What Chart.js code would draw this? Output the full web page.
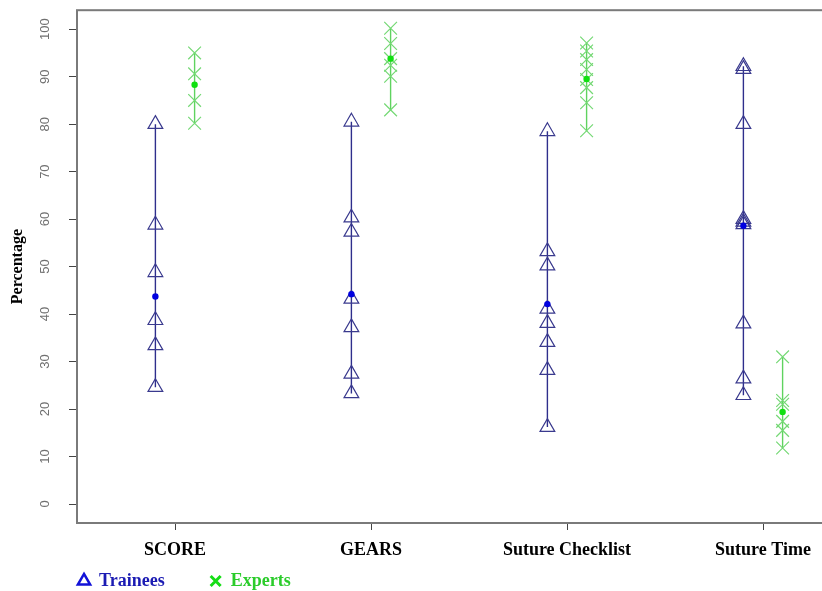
<!DOCTYPE html>
<html>
<head>
<meta charset="utf-8">
<title>Trainees vs Experts</title>
<script src="https://cdn.jsdelivr.net/npm/chart.js@4.4.1/dist/chart.umd.min.js"></script>
<style>
  html, body { margin: 0; padding: 0; background: #fff; overflow: hidden; }
  #wrap { width: 880px; height: 591px; }
</style>
</head>
<body>
<div id="wrap"><canvas id="scoreChart" width="880" height="591"></canvas></div>
<script>
// values (percentages)
const categories = ['SCORE', 'GEARS', 'Suture Checklist', 'Suture Time'];
const traineeValues = [
  [80, 58.8, 48.8, 38.7, 33.4, 24.6],
  [80.5, 60.3, 57.3, 43.2, 37.2, 27.4, 23.3],
  [78.5, 53.2, 50.2, 41.1, 38.1, 34.1, 28.2, 16.2],
  [92.2, 91.6, 80, 60, 59.4, 58.9, 38, 26.4, 22.9]
];
const expertValues = [
  [95, 90.6, 85, 80.2],
  [100.2, 97, 93.8, 92.4, 90.1, 83],
  [97.1, 95.4, 93.6, 91.5, 89.4, 87.7, 84.5, 78.6],
  [31, 21.8, 21, 17.4, 15.5, 11.8]
];
const traineeMedians = [43.7, 44.2, 42.1, 58.6];
const expertMedians = [88.3, 93.8, 89.5, 19.4];
const yTicks = [0, 10, 20, 30, 40, 50, 60, 70, 80, 90, 100];

const serif = '"Liberation Serif", "Times New Roman", serif';
const sans = '"Liberation Sans", Arial, sans-serif';

// one line per category, broken with a null point
function groupPoints(values, offset) {
  const pts = [];
  values.forEach((vals, i) => {
    vals.forEach(v => pts.push({ x: i + 1 + offset, y: v }));
    pts.push({ x: i + 1 + offset, y: null });
  });
  return pts;
}

function medianPoints(meds, offset) {
  return meds.map((v, i) => ({ x: i + 1 + offset, y: v }));
}

function noPadding(scale) {
  scale.paddingTop = 0;
  scale.paddingBottom = 0;
  scale.paddingLeft = 0;
  scale.paddingRight = 0;
}

// grey frame round the plot area, like R's box()
const boxPlugin = {
  id: 'box',
  beforeDatasetsDraw(chart) {
    const a = chart.chartArea;
    const ctx = chart.ctx;
    ctx.save();
    ctx.strokeStyle = '#7a7a7a';
    ctx.lineWidth = 2;
    ctx.strokeRect(a.left, a.top, a.right - a.left, a.bottom - a.top);
    ctx.restore();
  }
};

// put the legend under the left of the plot
const legendPlace = {
  id: 'legendPlace',
  afterLayout(chart) {
    const lg = chart.legend;
    lg.left = 33;
    lg.right = 600;
    lg.top = 527;
    lg.bottom = 591;
    lg.width = lg.right - lg.left;
    lg.height = lg.bottom - lg.top;
  }
};

document.addEventListener('DOMContentLoaded', () => {
  const ctx = document.getElementById('scoreChart').getContext('2d');
  new Chart(ctx, {
    type: 'scatter',
    data: {
      datasets: [
        {
          label: 'Trainees median',
          data: medianPoints(traineeMedians, -0.1),
          pointStyle: 'circle',
          pointRadius: 3.2,
          backgroundColor: '#0000e0',
          borderColor: '#0000e0',
          borderWidth: 0
        },
        {
          label: 'Experts median',
          data: medianPoints(expertMedians, 0.1),
          pointStyle: 'circle',
          pointRadius: 3.2,
          backgroundColor: '#10e010',
          borderColor: '#10e010',
          borderWidth: 0
        },
        {
          label: 'Trainees',
          data: groupPoints(traineeValues, -0.1),
          showLine: true,
          spanGaps: false,
          borderColor: '#2e2e8c',
          borderWidth: 1.4,
          pointStyle: 'triangle',
          pointRadius: 8.5,
          pointBorderColor: '#3a3a8e',
          pointBackgroundColor: 'rgba(0,0,0,0)',
          pointBorderWidth: 1.2
        },
        {
          label: 'Experts',
          data: groupPoints(expertValues, 0.1),
          showLine: true,
          spanGaps: false,
          borderColor: '#5fd35f',
          borderWidth: 1.4,
          pointStyle: 'crossRot',
          pointRadius: 9,
          pointBorderColor: '#74d874',
          pointBackgroundColor: 'rgba(0,0,0,0)',
          pointBorderWidth: 1.2
        }
      ]
    },
    options: {
      responsive: false,
      animation: false,
      layout: { padding: { top: 8, right: 19, left: 0, bottom: 0 } },
      scales: {
        x: {
          type: 'linear',
          min: 0.5,
          max: 4.5,
          border: { display: false },
          grid: { drawOnChartArea: false, drawTicks: true, tickLength: 7, tickColor: '#444', lineWidth: 1 },
          afterBuildTicks: scale => { scale.ticks = categories.map((c, i) => ({ value: i + 1 })); },
          afterFit: scale => { scale.height = 40; noPadding(scale); },
          ticks: {
            autoSkip: false,
            maxRotation: 0,
            padding: 10,
            color: '#000',
            font: { family: serif, size: 18, weight: 'bold' },
            callback: v => categories[v - 1]
          }
        },
        y: {
          min: -4,
          max: 104,
          border: { display: false },
          grid: { drawOnChartArea: false, drawTicks: true, tickLength: 8, tickColor: '#444', lineWidth: 1 },
          afterBuildTicks: scale => { scale.ticks = yTicks.map(v => ({ value: v })); },
          afterFit: scale => { scale.width = 77; noPadding(scale); },
          title: {
            display: true,
            text: 'Percentage',
            color: '#000',
            font: { family: serif, size: 16, weight: 'bold' },
            padding: { top: 8, bottom: 0 }
          },
          ticks: {
            minRotation: 90,
            maxRotation: 90,
            crossAlign: 'center',
            padding: 13,
            color: '#707070',
            font: { family: sans, size: 13 }
          }
        }
      },
      plugins: {
        tooltip: { enabled: false },
        legend: {
          position: 'bottom',
          align: 'start',
          fullSize: false,
          maxHeight: 28,
          labels: {
            usePointStyle: true,
            boxWidth: 12,
            boxHeight: 10,
            padding: 45,
            font: { family: serif, size: 18, weight: 'bold' },
            generateLabels: () => [
              { text: 'Trainees', fontColor: '#1b1bb3', strokeStyle: '#1212d8', fillStyle: 'rgba(0,0,0,0)',
                lineWidth: 2.5, pointStyle: 'triangle', datasetIndex: 2, hidden: false },
              { text: 'Experts', fontColor: '#2bcc2b', strokeStyle: '#16dd16', fillStyle: 'rgba(0,0,0,0)',
                lineWidth: 3, pointStyle: 'crossRot', datasetIndex: 3, hidden: false }
            ]
          }
        }
      }
    },
    plugins: [boxPlugin, legendPlace]
  });
});
</script>
</body>
</html>
